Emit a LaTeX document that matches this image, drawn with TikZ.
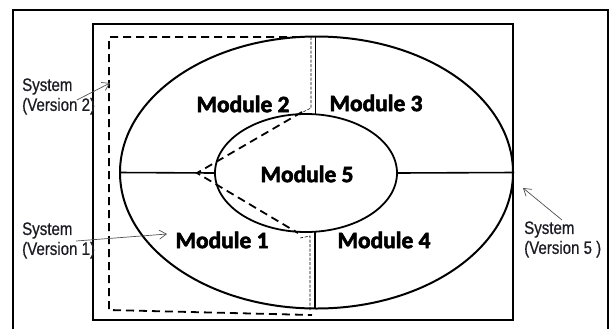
\documentclass[tikz,border=0pt]{standalone}
\usepackage{fontspec}
\setmainfont{Liberation Sans}
\newfontfamily\modfont[FakeBold=2.5]{Carlito}
\newfontfamily\sysfont[FakeStretch=0.84,FakeBold=0.6]{Liberation Sans}
\usetikzlibrary{arrows.meta,shapes.geometric}
\definecolor{txt}{HTML}{1c1c24}
\definecolor{arr}{HTML}{505050}
\begin{document}
\begin{tikzpicture}[x=1bp,y=-1bp,
  frame/.style={line width=2pt,black},
  solidline/.style={line width=1.6pt,black},
  thickdash/.style={line width=1.8pt,black,dash pattern=on 8bp off 5bp},
  thindash/.style={line width=0.6pt,black,dash pattern=on 3bp off 1.5bp},
  modlabel/.style={font=\modfont\bfseries\fontsize{23.5}{26}\selectfont,inner sep=0pt},
  syslabel/.style={font=\sysfont\fontsize{18}{20}\selectfont,text=txt,align=left,anchor=west,inner sep=0pt},
  pointer/.style={draw=arr,line width=0.7pt,-{Straight Barb[length=7bp,width=9bp]}}]
\useasboundingbox (0,0) rectangle (611,329);
\fill[white] (0,0) rectangle (611,329);
% outer frame (bottom cut off)
\draw[frame] (13,329) -- (13,10) -- (608,10) -- (608,329);
% inner rectangle
\draw[frame] (93,24) rectangle (513,320);
% dashed system boundary (version 2)
\draw[thickdash] (300,37) -- (109,37) -- (109,310) -- (312,315);
\draw[thickdash] (302,112) -- (197,173) -- (298,233);
\draw[thindash] (311,37) -- (311,108) -- (303,112);
\draw[thindash] (310,310) -- (310,236) -- (300,238);
% ellipses
\node[draw,line width=2pt,ellipse,minimum width=393bp,minimum height=272bp,inner sep=0pt] (outer) at (316.5,172.5) {};
\node[draw,line width=1.8pt,ellipse,minimum width=182bp,minimum height=118bp,inner sep=0pt,fill=none] (inner) at (306,173) {};
% dividers
\coordinate (tl) at (315.5,37);
\coordinate (tr) at (315.5,114);
\coordinate (bl) at (315,232);
\coordinate (br) at (315,308);
\draw[solidline] (tl) -- (tr);
\draw[solidline] (bl) -- (br);
\draw[solidline] (outer.west) -- (inner.west);
\draw[solidline] (inner.east) -- (outer.east);
% module labels
\node[modlabel] (m2) at (243,104) {Module 2};
\node[modlabel] (m3) at (376,103) {Module 3};
\node[modlabel] (m5) at (307,174) {Module 5};
\node[modlabel] (m1) at (222,240) {Module 1};
\node[modlabel] (m4) at (384,240) {Module 4};
% system labels
\node[syslabel] (s2) at (22,96.5) {System\\(Version 2)};
\node[syslabel] (s1) at (22,240.5) {System\\(Version 1)};
\node[syslabel] (s5) at (524,239.5) {System\\(Version 5 )};
\coordinate (a2) at (110,83);
\coordinate (a1) at (167,234);
\coordinate (a5) at (523,188);
\draw[pointer] (77,100) -- (a2);
\draw[pointer] (76,241) -- (a1);
\draw[pointer] (562,220) -- (a5);
\end{tikzpicture}
\end{document}
